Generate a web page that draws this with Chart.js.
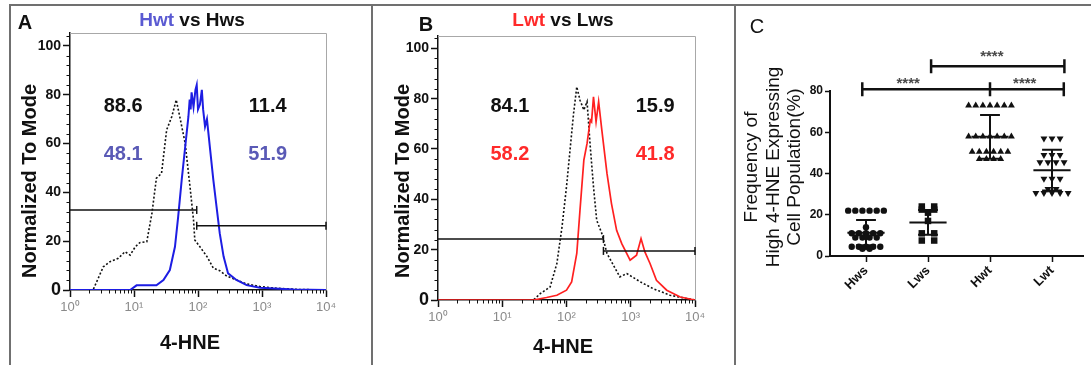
<!DOCTYPE html>
<html><head><meta charset="utf-8">
<script src="https://cdn.jsdelivr.net/npm/chart.js@4.4.1/dist/chart.umd.min.js"></script>
<style>
html,body{margin:0;padding:0;background:#fff;}
#wrap{position:relative;width:1091px;height:365px;overflow:hidden;background:#fff;}
#wrap canvas{position:absolute;left:0;top:0;}
.rule{position:absolute;background:#707070;}
</style></head><body>
<div id="wrap">
  <div class="rule" style="left:9px;top:4px;width:1082px;height:2px"></div>
  <div class="rule" style="left:9px;top:4px;width:2px;height:361px"></div>
  <div class="rule" style="left:371px;top:4px;width:2px;height:361px"></div>
  <div class="rule" style="left:734px;top:4px;width:2px;height:361px"></div>
  <canvas id="cA" width="1091" height="365"></canvas>
  <canvas id="cB" width="1091" height="365"></canvas>
  <canvas id="cC" width="1091" height="365"></canvas>
</div>
<script>
// ---------------- DATA ----------------
// Panel A histograms (x as log10 of 4-HNE intensity, y = % of mode)
const histA_HwsLogX = [0, 0.36, 0.52, 0.625, 0.755, 0.86, 0.94, 1.02, 1.09, 1.2, 1.28, 1.35, 1.43, 1.51, 1.59, 1.66, 1.72, 1.8, 1.875, 1.93, 1.95, 2.03, 2.14, 2.24, 2.34, 2.45, 2.6, 2.76, 2.97, 3.23, 3.6, 4];
const histA_HwsY    = [0, 0, 9.5, 11.6, 13, 15.7, 14.3, 17.7, 19.4, 19.8, 31.4, 45.8, 47.8, 65.6, 71, 77.9, 70.4, 60, 42.3, 28.7, 20.5, 17.7, 13.7, 8.9, 7.9, 5.7, 4.1, 2.5, 1.4, 0.7, 0.2, 0];
const histA_HwtLogX = [0, 0.94, 1.04, 1.35, 1.46, 1.56, 1.64, 1.69, 1.745, 1.8, 1.85, 1.87, 1.885, 1.9, 1.93, 1.96, 1.98, 2.0, 2.03, 2.06, 2.08, 2.11, 2.14, 2.19, 2.24, 2.29, 2.34, 2.4, 2.47, 2.6, 2.76, 2.97, 3.5, 4];
const histA_HwtY    = [0, 0, 1.9, 1.9, 4.1, 8.2, 17.7, 30, 45, 58.7, 71, 78, 74, 81, 75, 82, 84, 74, 76, 82, 74, 67, 70, 57.4, 45, 34.1, 23.2, 13.7, 6.8, 4.1, 2, 0.9, 0.2, 0];
// Panel B histograms
const histB_LwsLogX = [0, 1.485, 1.59, 1.745, 1.85, 1.93, 2.0, 2.06, 2.11, 2.16, 2.21, 2.27, 2.32, 2.37, 2.42, 2.47, 2.55, 2.63, 2.73, 2.83, 2.94, 3.15, 3.35, 3.61, 3.87, 4];
const histB_LwsY    = [0, 0, 2.5, 5.2, 14.5, 29, 45, 60.9, 74.1, 84.7, 79.4, 75.5, 78.8, 60.9, 45, 31.7, 26.4, 18.5, 13.8, 9.2, 10.5, 7.2, 4.5, 1.9, 0.6, 0];
const histB_LwtLogX = [0, 1.485, 1.69, 1.85, 2.0, 2.08, 2.16, 2.21, 2.27, 2.32, 2.37, 2.39, 2.42, 2.46, 2.5, 2.55, 2.63, 2.7, 2.78, 2.86, 2.99, 3.09, 3.16, 3.22, 3.3, 3.4, 3.56, 3.77, 4];
const histB_LwtY    = [0, 0, 1, 1.9, 3.9, 7.2, 18.5, 35.7, 55.6, 62.2, 71.5, 70.8, 80.7, 70.8, 78.8, 67.5, 50.3, 38.3, 27.7, 22.4, 15.8, 17.8, 24.4, 19.1, 14.5, 7.8, 3.9, 1.2, 0];
// Gates: [left level, right level], split position (log10)
const gateA_levels = [32.8, 26.3];
const gateA_splitLog = 1.98;
const gateB_levels = [24.2, 19.5];
const gateB_splitLog = 2.575;
// Gate percentages
const statsA_black = ['88.6', '11.4'];
const statsA_color = ['48.1', '51.9'];
const statsB_black = ['84.1', '15.9'];
const statsB_color = ['58.2', '41.8'];
const statsA_xLog = [0.83, 3.09];
const statsB_xLog = [1.12, 3.38];
const statsA_rowY = [75, 55.7];
const statsB_rowY = [76.8, 58];
// Axis ticks for histograms
const histXTickValues = [1, 10, 100, 1000, 10000];
const histXTickLabels = ['10\u2070', '10\u00b9', '10\u00b2', '10\u00b3', '10\u2074'];
const histYTickValues = [0, 20, 40, 60, 80, 100];
const histYMinorStep = 4;
// Panel C scatter
const catsC = ['Hws', 'Lws', 'Hwt', 'Lwt'];
const valsHws = [22, 22, 22, 22, 22, 22, 14, 11, 11, 11, 11, 11, 9, 9, 9, 9, 4.5, 4.5, 4.5, 4.5, 4.5, 3.5, 3.5];
const valsLws = [24, 24, 22.5, 22.5, 21, 17, 11, 11, 7.5, 7.5];
const valsHwt = [73, 73, 73, 73, 73, 73, 73, 58, 58, 58, 58, 58, 58, 58, 50.5, 50.5, 50.5, 50.5, 50.5, 50.5, 47, 47, 47, 47];
const valsLwt = [57, 57, 57, 49, 49, 49, 45.5, 45.5, 45.5, 45.5, 37.5, 37.5, 37.5, 32.5, 32.5, 30.5, 30.5, 30.5, 30.5, 30.5];
const meansC = [11.3, 16.3, 57.8, 41.6];
const sdsC = [6.1, 6.0, 10.6, 9.9];
const yTicksC = [0, 20, 40, 60, 80];
// Significance comparisons: bar start, end (x units), level, label position
const sigFrom = [0.94, 3.0, 2.05];
const sigTo = [3.0, 4.19, 4.2];
const sigLevel = [80.8, 80.8, 92];
const sigLabelX = [1.68, 3.56, 3.03];
const sigLabel = ['****', '****', '****'];

// ---------------- HELPERS ----------------
const FONT = "'Liberation Sans', Arial, Helvetica, sans-serif";
Chart.defaults.font.family = FONT;
const toXY = (lx, ys) => lx.map((l, i) => ({x: Math.pow(10, l), y: ys[i]}));

function drawParts(ctx, parts, x, y, font, rot) {
  ctx.save();
  ctx.translate(x, y);
  ctx.rotate((rot || 0) * Math.PI / 180);
  ctx.font = font;
  ctx.textBaseline = 'middle';
  ctx.textAlign = 'left';
  const w = parts.reduce((s, p) => s + ctx.measureText(p.t).width, 0);
  let cx = -w / 2;
  parts.forEach(p => { ctx.fillStyle = p.c; ctx.fillText(p.t, cx, 0); cx += ctx.measureText(p.t).width; });
  ctx.restore();
}
const extras = {
  id: 'extras',
  beforeDatasetsDraw(chart, args, opts) {
    const a = chart.chartArea, ctx = chart.ctx;
    ctx.save();
    if (opts.frame) {
      ctx.strokeStyle = opts.frame; ctx.lineWidth = 1;
      ctx.beginPath();
      ctx.moveTo(a.left, Math.round(a.top) + 0.5);
      ctx.lineTo(Math.round(a.right) + 0.5, Math.round(a.top) + 0.5);
      ctx.lineTo(Math.round(a.right) + 0.5, a.bottom);
      ctx.stroke();
    }
    if (opts.minor) {
      // minor tick marks placed through the chart's own scales
      const m = opts.minor;
      ctx.strokeStyle = '#111'; ctx.lineWidth = 1;
      ctx.beginPath();
      m.x.forEach(v => {
        const px = Math.round(chart.scales.x.getPixelForValue(v)) + 0.5;
        ctx.moveTo(px, a.bottom); ctx.lineTo(px, a.bottom + m.len);
      });
      m.y.forEach(v => {
        const py = Math.round(chart.scales.y.getPixelForValue(v)) + 0.5;
        ctx.moveTo(a.left, py); ctx.lineTo(a.left - m.len, py);
      });
      ctx.stroke();
    }
    ctx.restore();
  },
  afterDraw(chart, args, opts) {
    const ctx = chart.ctx;
    (opts.texts || []).forEach(t => drawParts(ctx, t.parts, t.x, t.y, t.font, t.rotate));
    (opts.dataTexts || []).forEach(t => {
      const x = chart.scales.x.getPixelForValue(t.x);
      const y = chart.scales.y.getPixelForValue(t.y);
      drawParts(ctx, [{t: t.text, c: t.color}], x, y, t.font, 0);
    });
  }
};

function histChart(id, cfg) {
  const area = cfg.area; // left, right, top, bottom in page px
  const yMax = cfg.yMax;
  const minorX = [];
  for (let d = 0; d < 4; d++) for (let k = 2; k < 10; k++) minorX.push(k * Math.pow(10, d));
  const minorY = [];
  for (let v = 0; v <= yMax; v += histYMinorStep) if (v % 20 !== 0) minorY.push(v);
  const gate = (from, to, lvl, radii) => ({
    data: [{x: from, y: lvl}, {x: to, y: lvl}], borderColor: '#111', borderWidth: 1.5,
    pointStyle: 'line', pointRotation: 90, pointRadius: radii, pointBorderWidth: 1.5,
    pointBorderColor: '#111', pointBackgroundColor: '#111', order: 0, clip: 6
  });
  const split = Math.pow(10, cfg.splitLog);
  const dataTexts = [];
  cfg.statBlack.forEach((s, i) => dataTexts.push({text: s, color: '#111', x: Math.pow(10, cfg.statX[i]), y: cfg.statY[0], font: 'bold 20px ' + FONT}));
  cfg.statColor.forEach((s, i) => dataTexts.push({text: s, color: cfg.statColorHex, x: Math.pow(10, cfg.statX[i]), y: cfg.statY[1], font: 'bold 20px ' + FONT}));
  return new Chart(document.getElementById(id), {
    type: 'line',
    data: {datasets: [
      {label: cfg.refName, data: cfg.ref, borderColor: '#111', borderWidth: 1.6, borderDash: [2, 2], pointRadius: 0, tension: 0, order: 3},
      {label: cfg.mainName, data: cfg.main, borderColor: cfg.lineColor, borderWidth: cfg.lineWidth, pointRadius: 0, tension: 0, order: 2},
      gate(1, split, cfg.gates[0], [0, 4]),
      gate(split, 10000, cfg.gates[1], [4, 4])
    ]},
    options: {
      responsive: false, animation: false, events: [],
      layout: {padding: {left: area.left - 40, right: 1091 - area.right, top: area.top, bottom: 365 - area.bottom - 40}},
      plugins: {legend: {display: false}, tooltip: {enabled: false},
        extras: {frame: '#a8a8a8', texts: cfg.texts, dataTexts, minor: {x: minorX, y: minorY, len: 3.5}}},
      scales: {
        x: {type: 'logarithmic', min: 1, max: 10000,
          afterBuildTicks: s => { s.ticks = histXTickValues.map(v => ({value: v})); },
          afterFit: s => { s.height = 40; },
          ticks: {callback: (v, i) => histXTickLabels[i], color: '#8a8a8a', font: {size: 13}, padding: 3, maxRotation: 0, autoSkip: false},
          grid: {drawOnChartArea: false, tickLength: 7, tickColor: '#111', tickWidth: 1.5},
          border: {color: '#111', width: 1.5}},
        y: {min: 0, max: yMax,
          afterBuildTicks: s => { s.ticks = histYTickValues.map(v => ({value: v})); },
          afterFit: s => { s.width = 40; },
          ticks: {color: '#111', padding: 2,
            font: c => (c.tick && c.tick.value === 0) ? {size: 18, weight: 'bold'} : {size: 14, weight: 'bold'}},
          grid: {drawOnChartArea: false, tickLength: 7, tickColor: '#111', tickWidth: 1.5},
          border: {color: '#111', width: 1.5}}
      }
    },
    plugins: [extras]
  });
}

histChart('cA', {
  area: {left: 70, right: 326, top: 33, bottom: 290}, yMax: 105.3,
  ref: toXY(histA_HwsLogX, histA_HwsY), refName: 'Hws',
  main: toXY(histA_HwtLogX, histA_HwtY), mainName: 'Hwt', lineColor: '#1d1de3', lineWidth: 2,
  gates: gateA_levels, splitLog: gateA_splitLog,
  statBlack: statsA_black, statColor: statsA_color, statColorHex: '#5a5ab6', statX: statsA_xLog, statY: statsA_rowY,
  texts: [
    {parts: [{t: 'A', c: '#111'}], x: 25, y: 23, font: 'bold 20px ' + FONT},
    {parts: [{t: 'Hwt', c: '#5a5ad2'}, {t: ' vs Hws', c: '#111'}], x: 192, y: 21, font: 'bold 19px ' + FONT},
    {parts: [{t: 'Normalized To Mode', c: '#111'}], x: 30, y: 181, font: 'bold 20px ' + FONT, rotate: -90},
    {parts: [{t: '4-HNE', c: '#111'}], x: 190, y: 343, font: 'bold 20px ' + FONT}
  ]
});
histChart('cB', {
  area: {left: 438, right: 695, top: 36, bottom: 300}, yMax: 104.9,
  ref: toXY(histB_LwsLogX, histB_LwsY), refName: 'Lws',
  main: toXY(histB_LwtLogX, histB_LwtY), mainName: 'Lwt', lineColor: '#ff2020', lineWidth: 1.7,
  gates: gateB_levels, splitLog: gateB_splitLog,
  statBlack: statsB_black, statColor: statsB_color, statColorHex: '#ff2a2a', statX: statsB_xLog, statY: statsB_rowY,
  texts: [
    {parts: [{t: 'B', c: '#111'}], x: 426, y: 25, font: 'bold 20px ' + FONT},
    {parts: [{t: 'Lwt', c: '#ff2a2a'}, {t: ' vs Lws', c: '#111'}], x: 563, y: 21, font: 'bold 19px ' + FONT},
    {parts: [{t: 'Normalized To Mode', c: '#111'}], x: 403, y: 181, font: 'bold 20px ' + FONT, rotate: -90},
    {parts: [{t: '4-HNE', c: '#111'}], x: 563, y: 347, font: 'bold 20px ' + FONT}
  ]
});

// ---------------- PANEL C ----------------
const SWARM_STEP = [0.115, 0.2, 0.115, 0.13];
function swarm(values, center, step) {
  const counts = {}, seen = {};
  values.forEach(v => counts[v] = (counts[v] || 0) + 1);
  return values.map(v => {
    seen[v] = seen[v] === undefined ? 0 : seen[v] + 1;
    return {x: center + (seen[v] - (counts[v] - 1) / 2) * step, y: v};
  });
}
const MEAN_HALF = 0.3, CAP_HALF = 0.16;
function errorBars() {
  const out = [];
  meansC.forEach((m, k) => {
    const i = k + 1, s = sdsC[k];
    out.push({x: i - MEAN_HALF, y: m}, {x: i + MEAN_HALF, y: m}, {x: i, y: null},
      {x: i, y: m - s}, {x: i, y: m + s}, {x: i, y: null},
      {x: i - CAP_HALF, y: m + s}, {x: i + CAP_HALF, y: m + s}, {x: i, y: null},
      {x: i - CAP_HALF, y: m - s}, {x: i + CAP_HALF, y: m - s}, {x: i, y: null});
  });
  return out;
}
const TICK_H = 3.4;
function sigBars() {
  const out = [];
  sigLevel.forEach((lvl, k) => {
    const a = sigFrom[k], b = sigTo[k];
    out.push({x: a, y: lvl}, {x: b, y: lvl}, {x: a, y: null},
      {x: a, y: lvl - TICK_H}, {x: a, y: lvl + TICK_H}, {x: a, y: null},
      {x: b, y: lvl - TICK_H}, {x: b, y: lvl + TICK_H}, {x: b, y: null});
  });
  return out;
}
const areaC = {left: 830, right: 1083, top: 91, bottom: 256};
const xMinC = 1 - (866 - areaC.left) / 62, xMaxC = 4 + (areaC.right - 1052) / 62;
const vals = [valsHws, valsLws, valsHwt, valsLwt];
new Chart(document.getElementById('cC'), {
  type: 'scatter',
  data: {datasets: [
    {label: 'Hws', data: swarm(valsHws, 1, SWARM_STEP[0]), pointStyle: 'circle', pointRadius: 3.2, backgroundColor: '#111', borderColor: '#111', borderWidth: 0, order: 3},
    {label: 'Lws', data: swarm(valsLws, 2, SWARM_STEP[1]), pointStyle: 'rect', pointRadius: 4.6, backgroundColor: '#111', borderColor: '#111', borderWidth: 0, order: 3},
    {label: 'Hwt', data: swarm(valsHwt, 3, SWARM_STEP[2]), pointStyle: 'triangle', pointRadius: 4, backgroundColor: '#111', borderColor: '#111', borderWidth: 0, order: 3},
    {label: 'Lwt', data: swarm(valsLwt, 4, SWARM_STEP[3]), pointStyle: 'triangle', rotation: 180, pointRadius: 4, backgroundColor: '#111', borderColor: '#111', borderWidth: 0, order: 3},
    {label: 'mean ± SD', data: errorBars(), showLine: true, spanGaps: false, pointRadius: 0, borderColor: '#111', borderWidth: 2, order: 1},
    {label: 'significance', data: sigBars(), showLine: true, spanGaps: false, pointRadius: 0, borderColor: '#111', borderWidth: 2.5, clip: false, order: 0}
  ]},
  options: {
    responsive: false, animation: false, events: [],
    layout: {padding: {left: areaC.left - 40, right: 1091 - areaC.right, top: areaC.top, bottom: 365 - areaC.bottom - 60}},
    plugins: {legend: {display: false}, tooltip: {enabled: false},
      extras: {
        texts: [
          {parts: [{t: 'C', c: '#111'}], x: 757, y: 27, font: '20px ' + FONT},
          {parts: [{t: 'Frequency of', c: '#111'}], x: 752, y: 167, font: '19px ' + FONT, rotate: -90},
          {parts: [{t: 'High 4-HNE Expressing', c: '#111'}], x: 774, y: 167, font: '19px ' + FONT, rotate: -90},
          {parts: [{t: 'Cell Population(%)', c: '#111'}], x: 795, y: 167, font: '19px ' + FONT, rotate: -90}
        ],
        dataTexts: sigLabel.map((s, k) => ({text: s, color: '#4a4a4a', x: sigLabelX[k], y: sigLevel[k] + (k === 2 ? 4.6 : 2.6), font: 'bold 15px ' + FONT}))
      }},
    scales: {
      x: {type: 'linear', min: xMinC, max: xMaxC,
        afterBuildTicks: s => { s.ticks = catsC.map((c, i) => ({value: i + 1})); },
        afterFit: s => { s.height = 60; },
        ticks: {callback: (v, i) => catsC[i], minRotation: 45, maxRotation: 45, autoSkip: false, color: '#111', font: {size: 13, weight: 'bold'}, padding: 1},
        grid: {drawOnChartArea: false, tickLength: 6, tickColor: '#111', tickWidth: 1.5},
        border: {color: '#111', width: 2}},
      y: {min: 0, max: 80,
        afterBuildTicks: s => { s.ticks = yTicksC.map(v => ({value: v})); },
        afterFit: s => { s.width = 40; },
        ticks: {color: '#111', font: {size: 12, weight: 'bold'}, padding: 2},
        grid: {drawOnChartArea: false, tickLength: 5, tickColor: '#111', tickWidth: 1.5},
        border: {color: '#111', width: 2}}
    }
  },
  plugins: [extras]
});
</script>
</body></html>
